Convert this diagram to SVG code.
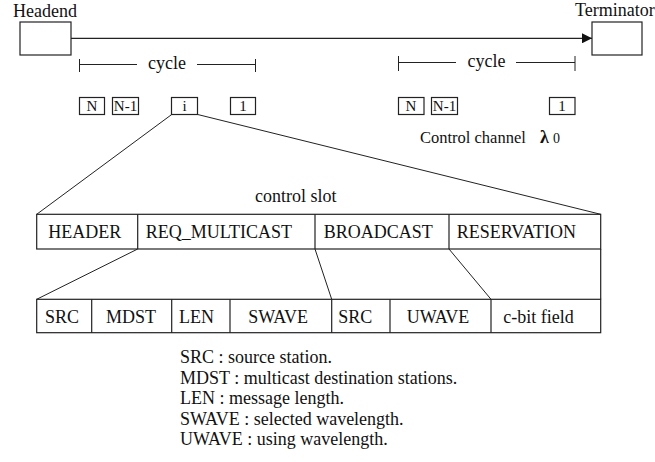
<svg xmlns="http://www.w3.org/2000/svg" width="655" height="462" viewBox="0 0 655 462">
<style>
text{font-family:"Liberation Serif","Times New Roman",serif;fill:#111;font-size:18px}
.sm{font-size:15px}
.box{fill:#fff;stroke:#222;stroke-width:1.2}
.ln{stroke:#222;stroke-width:1.2;fill:none}
.thin{stroke:#222;stroke-width:1;fill:none}
</style>
<defs>
<marker id="arr" markerWidth="10" markerHeight="10" refX="10" refY="5" orient="auto" markerUnits="userSpaceOnUse">
<path d="M0,0 L10,5 L0,10 Z" fill="#111"/>
</marker>
</defs>
<g id="headend">
<text x="45" y="17" text-anchor="middle">Headend</text>
<rect class="box" x="20" y="22" width="51" height="33"/>
</g>
<g id="terminator">
<text x="575" y="16">Terminator</text>
<rect class="box" x="592" y="22" width="50" height="33"/>
</g>
<g id="cycle-left">
<path class="thin" d="M79.5,59 V72 M79.5,64.5 H137 M197,64.5 H255.5 M255.5,59 V72"/>
<text x="148" y="69">cycle</text>
</g>
<g id="cycle-right">
<path class="thin" d="M398.5,56 V71 M398.5,62.5 H456 M516,62.5 H575 M575,56 V71"/>
<text x="467.5" y="67">cycle</text>
</g>
<g id="slot-N-left"><rect class="box" x="79.5" y="97.5" width="25" height="17"/><text class="sm" x="92" y="111" text-anchor="middle">N</text></g>
<g id="slot-N1-left"><rect class="box" x="112.5" y="97.5" width="26" height="17"/><text class="sm" x="125.5" y="111" text-anchor="middle">N-1</text></g>
<g id="slot-i"><rect class="box" x="171.5" y="97.5" width="26" height="17"/><text class="sm" x="184.5" y="111" text-anchor="middle">i</text></g>
<g id="slot-1-left"><rect class="box" x="230.5" y="97.5" width="25" height="17"/><text class="sm" x="243" y="111" text-anchor="middle">1</text></g>
<g id="slot-N-right"><rect class="box" x="398.5" y="97.5" width="25.5" height="17"/><text class="sm" x="411" y="111" text-anchor="middle">N</text></g>
<g id="slot-N1-right"><rect class="box" x="431.5" y="97.5" width="26" height="17"/><text class="sm" x="444.5" y="111" text-anchor="middle">N-1</text></g>
<g id="slot-1-right"><rect class="box" x="549.5" y="97.5" width="25.5" height="17"/><text class="sm" x="562" y="111" text-anchor="middle">1</text></g>
<g id="channel-label">
<text x="420" y="142.5" style="font-size:16.5px">Control channel</text>
<text x="540" y="142.5" style="font-weight:bold;font-size:18px">λ</text>
<text x="553" y="142.5" style="font-size:14px">0</text>
</g>
<g id="control-slot">
<text x="255" y="201.5">control slot</text>
<rect class="box" x="36.7" y="214.3" width="564" height="34.7"/>
<path class="ln" d="M137.7,214.3 V249 M315,214.3 V249 M449,214.3 V249"/>
<text x="48.3" y="238.3">HEADER</text>
<text x="145.7" y="238.3">REQ_MULTICAST</text>
<text x="323.7" y="238.3">BROADCAST</text>
<text x="456.7" y="238.3">RESERVATION</text>
</g>
<g id="fields">
<rect class="box" x="36.7" y="299.3" width="564" height="33.4"/>
<path class="ln" d="M91.7,299.3 V332.7 M171.7,299.3 V332.7 M230,299.3 V332.7 M331.7,299.3 V332.7 M390,299.3 V332.7 M491,299.3 V332.7"/>
<text x="45" y="322.7">SRC</text>
<text x="106" y="322.7">MDST</text>
<text x="179" y="322.7">LEN</text>
<text x="248.3" y="322.7">SWAVE</text>
<text x="338.3" y="322.7">SRC</text>
<text x="406.7" y="322.7">UWAVE</text>
<text x="503.3" y="322.7">c-bit field</text>
</g>
<g id="connectors">
<line class="ln" x1="71" y1="38.3" x2="592" y2="38.3" marker-end="url(#arr)"/>
<line class="thin" x1="171.7" y1="114.5" x2="36.7" y2="214.3"/>
<line class="thin" x1="197.7" y1="114.5" x2="600.7" y2="214.3"/>
<line class="thin" x1="137.7" y1="249" x2="36.7" y2="299.3"/>
<line class="thin" x1="315" y1="249" x2="331.7" y2="299.3"/>
<line class="thin" x1="449" y1="249" x2="491" y2="299.3"/>
<line class="ln" x1="600.7" y1="249" x2="600.7" y2="299.3"/>
</g>
<g id="legend">
<text x="180" y="363">SRC : source station.</text>
<text x="180" y="383.5">MDST : multicast destination stations.</text>
<text x="180" y="404">LEN : message length.</text>
<text x="180" y="424.5">SWAVE : selected wavelength.</text>
<text x="180" y="445">UWAVE : using wavelength.</text>
</g>
</svg>
